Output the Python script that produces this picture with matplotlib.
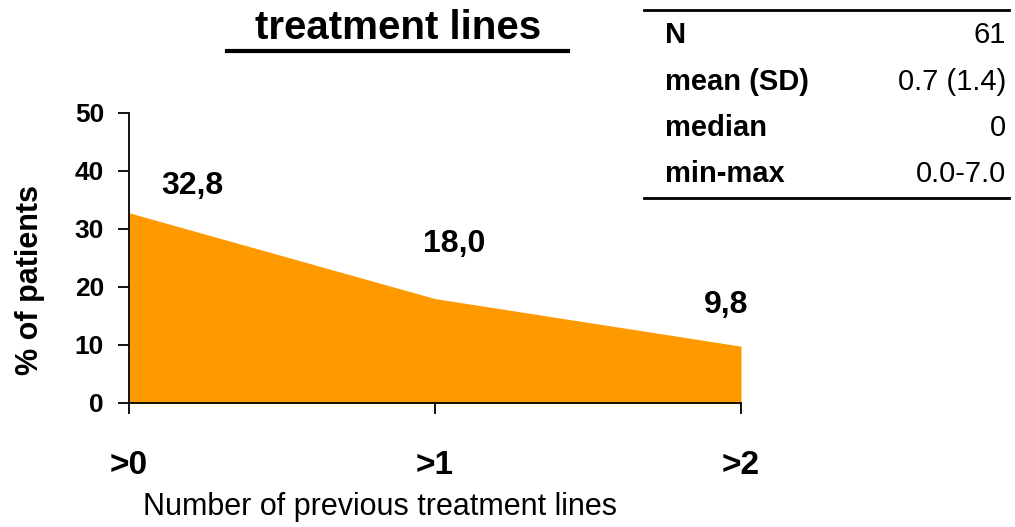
import matplotlib
matplotlib.use("Agg")
import matplotlib.pyplot as plt

categories = [">0", ">1", ">2"]
percent = [32.8, 18.0, 9.8]
value_labels = ["32,8", "18,0", "9,8"]
yticks = [0, 10, 20, 30, 40, 50]
stat_names = ["N", "mean (SD)", "median", "min-max"]
stat_values = ["61", "0.7 (1.4)", "0", "0.0-7.0"]

plt.rcParams['font.family'] = ['Liberation Sans', 'DejaVu Sans']

W, H = 1015, 527
fig = plt.figure(figsize=(W / 100, H / 100), dpi=100)
ax = fig.add_axes([129 / W, 1 - 403 / H, 612 / W, 290 / H])

x = list(range(len(categories)))
ax.fill_between(x, percent, 0, color='#FF9900', linewidth=0)
ax.set_xlim(0, 2)
ax.set_ylim(0, 50)
ax.set_yticks(yticks)
ax.set_yticklabels([str(v) for v in yticks], fontsize=19, fontweight='bold')
ax.set_xticks(x)
ax.set_xticklabels(categories, fontsize=24, fontweight='bold')
ax.tick_params(axis='y', direction='out', length=8, width=1.3, pad=10)
ax.tick_params(axis='x', direction='out', length=8, width=1.3, pad=26)
for s in ['top', 'right']:
    ax.spines[s].set_visible(False)
for s in ['left', 'bottom']:
    ax.spines[s].set_linewidth(1.3)
ax.set_xlabel("Number of previous treatment lines", fontsize=22)
ax.xaxis.set_label_coords((380 - 129) / 612, (403 - 492) / 290)
ax.set_ylabel("% of patients", fontsize=22, fontweight='bold')
ax.yaxis.set_label_coords((30 - 129) / 612, (403 - 280) / 290)
ax.yaxis.label.set_va('center')

offsets = [(63, 27), (19, 55), (-15, 41)]
for xi, yi, lab, off in zip(x, percent, value_labels, offsets):
    ax.annotate(lab, (xi, yi), xytext=off, textcoords='offset pixels',
                ha='center', va='center', fontsize=23, fontweight='bold')

# title
fig.text(398 / W, 1 - 39 / H, "treatment lines", fontsize=29, fontweight='bold',
         ha='center', va='baseline')
fig.add_artist(plt.Line2D([227 / W, 568 / W], [1 - 51 / H, 1 - 51 / H], color='black', lw=3,
                          transform=fig.transFigure))

# stats table
top_y = 1 - 10 / H
bot_y = 1 - 198 / H
for yy in (top_y, bot_y):
    fig.add_artist(plt.Line2D([644 / W, 1009 / W], [yy, yy], color='black', lw=2,
                              transform=fig.transFigure))
for i, (n, v) in enumerate(zip(stat_names, stat_values)):
    yy = 1 - (35 + 46.5 * i) / H
    fig.text(665 / W, yy, n, fontsize=21, fontweight='bold', ha='left', va='center')
    fig.text(1006 / W, yy, v, fontsize=21, ha='right', va='center')

fig.savefig("out.png", dpi=100)
